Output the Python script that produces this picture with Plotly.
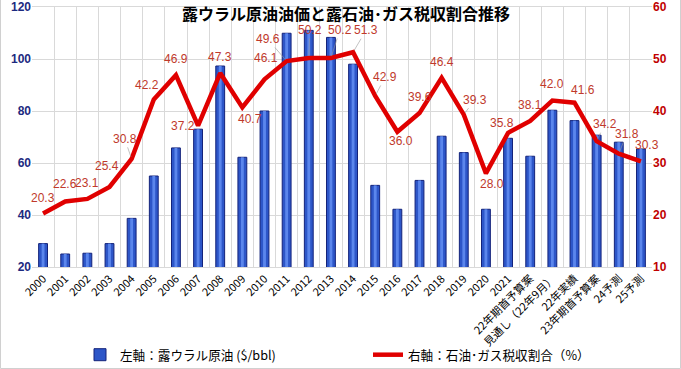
import plotly.graph_objects as go

categories = [str(y) for y in range(2000, 2022)] + [
    "22年期首予算案", "見通し（22年9月）", "22年実績", "23年期首予算案", "24予測", "25予測"]
urals_price = [29.0, 25.0, 25.3, 29.0, 38.7, 55.0, 65.8, 73.0, 97.3, 62.2, 80.0, 109.9, 111.0, 108.3,
               98.0, 51.4, 42.2, 53.3, 70.3, 64.0, 42.2, 69.5, 62.6, 80.3, 76.3, 70.7, 68.0, 65.4]
tax_share = [20.3, 22.6, 23.1, 25.4, 30.8, 42.2, 46.9, 37.2, 47.3, 40.7, 46.1, 49.6, 50.2, 50.2,
             51.3, 42.9, 36.0, 39.6, 46.4, 39.3, 28.0, 35.8, 38.1, 42.0, 41.6, 34.2, 31.8, 30.3]

# label offsets (px) for the line data labels
label_dx = [0, 0, 0, -3, -7, -7, 0, -15, 0, 8, 1, -19, 1, 9, 13, 10, 4, 0, 0, 11, 6, -6, 0, 0, 8, 8, 8, 6]
label_dy = [-15, -17, -16, -21, -20, -15, -16, 0, -16, 12, -21, -22, -28, -28, -22, -19, 9, -16, -16, -15, 11, -10, -16, -17, -13, -17, -20, -16]

FONT = "Liberation Sans, Arial, Noto Sans CJK JP"
JP = "Noto Sans CJK JP, Liberation Sans"

fig = go.Figure()
fig.add_trace(go.Bar(
    x=categories, y=urals_price, name="左軸：露ウラル原油 ($/bbl)",
    marker=dict(color="#2d56c8", line=dict(color="#14237a", width=1)),
    width=0.4, yaxis="y"))
# lighter centre highlight for the cylindrical look
fig.add_trace(go.Bar(
    x=categories, y=urals_price, showlegend=False, hoverinfo="skip",
    marker=dict(color="#5b86ec", line=dict(width=0)),
    width=0.13, yaxis="y"))
fig.add_trace(go.Scatter(
    x=categories, y=tax_share, name="右軸：石油･ガス税収割合（%）",
    mode="lines", line=dict(color="#e00000", width=4.5), yaxis="y2"))

for i, v in enumerate(tax_share):
    far = abs(label_dx[i]) + abs(label_dy[i]) > 24
    fig.add_annotation(
        x=i, y=v, xref="x", yref="y2", text=f"{v:.1f}",
        showarrow=far, arrowhead=0, arrowwidth=0.6, arrowcolor="#999999",
        ax=label_dx[i], ay=label_dy[i], axref="pixel", ayref="pixel",
        xshift=0 if far else label_dx[i], yshift=0 if far else -label_dy[i],
        font=dict(family=FONT, size=12, color="#c0392b"), standoff=2)

fig.add_annotation(
    x=(346 - 32) / 620, y=(267 + 0) / 260, xref="paper", yref="paper",
    text="<b>露ウラル原油油価と露石油･ガス税収割合推移</b>", showarrow=False,
    font=dict(family=JP, size=16, color="#000000"), xanchor="center", yanchor="top",
    borderpad=0)

# outer border
fig.add_shape(type="rect", xref="paper", yref="paper",
              x0=-31.5 / 620, x1=(680.5 - 32) / 620, y0=(267 - 368.5) / 260, y1=(267 + 0.5) / 260,
              line=dict(color="#d0d0d0", width=1), fillcolor="rgba(0,0,0,0)", layer="below")

fig.update_layout(
    width=681, height=369,
    margin=dict(l=32, r=29, t=7, b=102, autoexpand=False),
    paper_bgcolor="white", plot_bgcolor="white",
    font=dict(family=FONT, size=11, color="#000000"),
    barmode="overlay",
    showlegend=True,
    legend=dict(orientation="h", x=(80 - 32) / 620, xanchor="left",
                y=(267 - 355) / 260, yanchor="middle",
                font=dict(family=JP, size=12.6, color="#000000"),
                entrywidth=243, entrywidthmode="pixels",
                bgcolor="rgba(0,0,0,0)"),
    xaxis=dict(type="category", range=[-0.5, len(categories) - 0.5], autorange=False,
               automargin=False, tickangle=-45, tickson="boundaries",
               showgrid=True, gridcolor="#d9d9d9", gridwidth=1,
               showline=True, linecolor="#d9d9d9", mirror=True,
               ticks="", tickfont=dict(family=JP, size=11, color="#000000")),
    yaxis=dict(range=[20, 120], dtick=20, showgrid=True, gridcolor="#d9d9d9",
               zeroline=False, ticks="", automargin=False,
               tickfont=dict(family=FONT, size=12, color="#1c2a80", weight="bold")),
    yaxis2=dict(range=[10, 60], dtick=10, overlaying="y", side="right",
                showgrid=False, zeroline=False, ticks="", automargin=False,
                tickfont=dict(family=FONT, size=12, color="#c00000", weight="bold")),
)

fig.write_html("out.html", config={"displayModeBar": False},
               post_script="document.body.style.margin='0';")
